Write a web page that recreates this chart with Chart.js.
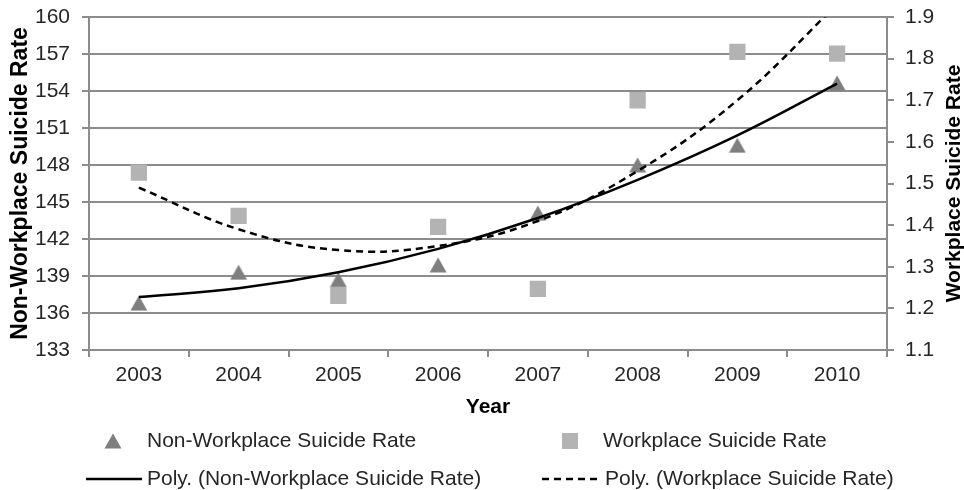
<!DOCTYPE html>
<html>
<head>
<meta charset="utf-8">
<script src="https://cdn.jsdelivr.net/npm/chart.js@4.4.0/dist/chart.umd.min.js"></script>
<style>
  html, body { margin: 0; padding: 0; background: #fff; }
  #wrap { width: 964px; height: 490px; }
</style>
</head>
<body>
<div id="wrap"><canvas id="chart" width="964" height="490"></canvas></div>
<script>
const years = ['2003', '2004', '2005', '2006', '2007', '2008', '2009', '2010'];
const nonWorkplaceRate = [136.8, 139.3, 138.7, 139.9, 144.1, 148.0, 149.6, 154.65];
const workplaceRate = [1.526, 1.422, 1.23, 1.396, 1.247, 1.70, 1.816, 1.812];
// trendlines at each year
const nonWorkplaceTrend = [137.3, 138.0, 139.3, 141.2, 143.7, 146.8, 150.4, 154.6];
const workplaceTrend = [1.49, 1.39, 1.34, 1.35, 1.41, 1.53, 1.70, 1.93];
const leftAxis = { min: 133, max: 160, step: 3 };
const rightAxis = { min: 1.1, max: 1.9, step: 0.1 };

const COLORS = { tri: '#7f7f7f', sq: '#b3b3b3', grid: '#8c8c8c', text: '#262626', title: '#000' };
const FONT = '"Liberation Sans", Arial, Helvetica, sans-serif';

Chart.defaults.font.family = FONT;
Chart.defaults.font.size = 21;
Chart.defaults.color = COLORS.text;

function triangleMarker(color) {
  const c = document.createElement('canvas');
  c.width = 18; c.height = 16;
  const g = c.getContext('2d');
  g.fillStyle = color;
  g.beginPath();
  g.moveTo(9, 0.5); g.lineTo(17.5, 15.5); g.lineTo(0.5, 15.5);
  g.closePath(); g.fill();
  return c;
}
const tri = triangleMarker(COLORS.tri);

// Excel style legend in two columns + right axis title reading upwards
const excelExtras = {
  id: 'excelExtras',
  afterDraw(chart) {
    const ctx = chart.ctx;
    const ds = chart.data.datasets;
    ctx.save();
    ctx.font = '21px ' + FONT;
    ctx.fillStyle = COLORS.text;
    ctx.textBaseline = 'middle';
    const row1 = 441, row2 = 479;
    // triangle entry
    ctx.drawImage(tri, 113 - 9, row1 - 8);
    ctx.fillText(ds[2].label, 147, row1);
    // square entry
    ctx.fillStyle = COLORS.sq;
    ctx.fillRect(562, row1 - 8, 16, 16);
    ctx.fillStyle = COLORS.text;
    ctx.fillText(ds[3].label, 603, row1);
    // solid trend entry
    ctx.strokeStyle = '#000';
    ctx.lineWidth = 2.5;
    ctx.beginPath(); ctx.moveTo(86, row2); ctx.lineTo(142, row2); ctx.stroke();
    ctx.fillText(ds[0].label, 147, row2);
    // dashed trend entry
    ctx.setLineDash([7, 5]);
    ctx.beginPath(); ctx.moveTo(542, row2); ctx.lineTo(602, row2); ctx.stroke();
    ctx.setLineDash([]);
    ctx.fillText(ds[1].label, 605, row2);
    // right axis title
    ctx.translate(954, (chart.chartArea.top + chart.chartArea.bottom) / 2);
    ctx.rotate(-Math.PI / 2);
    ctx.font = 'bold 21px ' + FONT;
    ctx.fillStyle = COLORS.title;
    ctx.textAlign = 'center';
    ctx.fillText('Workplace Suicide Rate', 0, 0);
    ctx.restore();
  }
};

function fixVertical(width) {
  return s => { s.width = width; s.paddingTop = 10; s.paddingBottom = 10; };
}

new Chart(document.getElementById('chart'), {
  type: 'line',
  data: {
    labels: years,
    datasets: [
      { label: 'Poly. (Non-Workplace Suicide Rate)', data: nonWorkplaceTrend, yAxisID: 'y',
        borderColor: '#000', borderWidth: 2.5, pointRadius: 0, tension: 0.4, clip: 0, order: 0 },
      { label: 'Poly. (Workplace Suicide Rate)', data: workplaceTrend, yAxisID: 'y1',
        borderColor: '#000', borderWidth: 2.5, borderDash: [7, 5], pointRadius: 0, tension: 0.4, clip: 0, order: 0 },
      { label: 'Non-Workplace Suicide Rate', data: nonWorkplaceRate, yAxisID: 'y',
        showLine: false, pointStyle: tri, backgroundColor: COLORS.tri, borderColor: COLORS.tri, order: 1 },
      { label: 'Workplace Suicide Rate', data: workplaceRate, yAxisID: 'y1',
        showLine: false, pointStyle: 'rect', pointRadius: 11.5, pointBorderWidth: 0,
        backgroundColor: COLORS.sq, borderColor: COLORS.sq, order: 1 }
    ]
  },
  options: {
    responsive: false,
    animation: false,
    events: [],
    layout: { padding: { top: 17, bottom: 70, left: 0, right: 0 } },
    plugins: { legend: { display: false }, tooltip: { enabled: false } },
    scales: {
      x: {
        offset: true,
        grid: { display: true, drawOnChartArea: false, offset: true, tickLength: 7, color: COLORS.grid, lineWidth: 2 },
        border: { color: COLORS.grid, width: 2 },
        ticks: { padding: 6 },
        title: { display: true, text: 'Year', color: COLORS.title, font: { weight: 'bold', size: 21 }, padding: 0 },
        afterFit: s => { s.height = 70; }
      },
      y: {
        position: 'left',
        min: leftAxis.min, max: leftAxis.max,
        ticks: { stepSize: leftAxis.step, padding: 12 },
        grid: { color: COLORS.grid, lineWidth: 2, tickLength: 7 },
        border: { color: COLORS.grid, width: 2 },
        title: { display: true, text: 'Non-Workplace Suicide Rate', color: COLORS.title,
                 font: { weight: 'bold', size: 23 }, padding: { top: 7, bottom: 0 } },
        afterFit: fixVertical(89)
      },
      y1: {
        position: 'right',
        min: rightAxis.min, max: rightAxis.max,
        ticks: { stepSize: rightAxis.step, padding: 11, callback: v => v.toFixed(1) },
        grid: { drawOnChartArea: false, color: COLORS.grid, lineWidth: 2, tickLength: 7 },
        border: { color: COLORS.grid, width: 2 },
        afterFit: fixVertical(77)
      }
    }
  },
  plugins: [excelExtras]
});
</script>
</body>
</html>
